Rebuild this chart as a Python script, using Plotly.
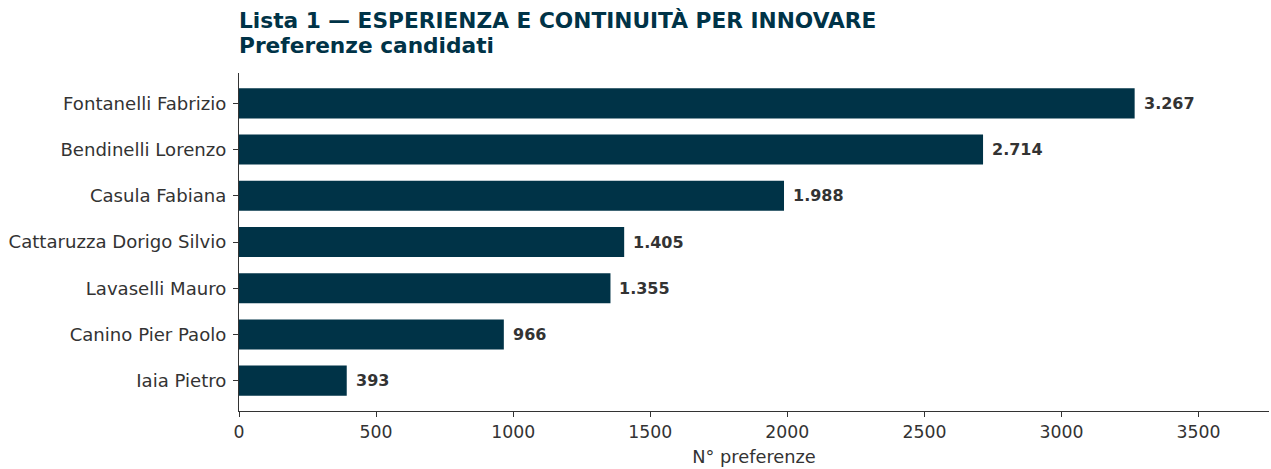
import plotly.graph_objects as go

candidates = ["Fontanelli Fabrizio", "Bendinelli Lorenzo", "Casula Fabiana",
              "Cattaruzza Dorigo Silvio", "Lavaselli Mauro", "Canino Pier Paolo", "Iaia Pietro"]
votes = [3267, 2714, 1988, 1405, 1355, 966, 393]
vote_labels = ["3.267", "2.714", "1.988", "1.405", "1.355", "966", "393"]
x_ticks = [0, 500, 1000, 1500, 2000, 2500, 3000, 3500]
title_lines = ["Lista 1 — ESPERIENZA E CONTINUITÀ PER INNOVARE", "Preferenze candidati"]

BAR = "#003347"
TXT = "#333333"
FONT = "DejaVu Sans"

W, H = 1271, 469
ML, MR, MT, MB = 239, 2, 73, 58
PH = H - MT - MB

fig = go.Figure()
fig.add_trace(go.Bar(
    x=votes, y=candidates, orientation="h",
    marker=dict(color=BAR, line=dict(width=0)),
    width=0.65, hoverinfo="skip",
))

for c, v, lab in zip(candidates, votes, vote_labels):
    fig.add_annotation(x=v, y=c, text=f"<b>{lab}</b>", showarrow=False,
                       xanchor="left", yanchor="middle", xshift=7,
                       font=dict(family=FONT, size=16, color=TXT))

# title lines
for line, base in zip(title_lines, [30, 54]):
    fig.add_annotation(xref="paper", yref="paper", x=0, y=1 + (MT - base - 5.5) / PH,
                       xanchor="left", yanchor="bottom", showarrow=False, xshift=-2,
                       text=f"<b>{line}</b>",
                       font=dict(family=FONT, size=21.7, color="#003347"))

fig.update_layout(
    width=W, height=H,
    margin=dict(l=ML, r=MR, t=MT, b=MB),
    plot_bgcolor="white", paper_bgcolor="white",
    showlegend=False,
    font=dict(family=FONT, color=TXT),
)
fig.update_xaxes(
    range=[0, 3267 * 1.15], tickvals=x_ticks, ticktext=[str(t) for t in x_ticks],
    showgrid=False, zeroline=False,
    showline=True, linecolor=TXT, linewidth=1,
    ticks="outside", ticklen=5, tickcolor=TXT,
    tickfont=dict(family=FONT, size=17.3, color=TXT),
    title=dict(text="N° preferenze", font=dict(family=FONT, size=17.8, color=TXT), standoff=9),
)
fig.update_yaxes(
    categoryorder="array", categoryarray=candidates,
    range=[6.6575, -0.6575],
    showgrid=False, zeroline=False,
    showline=True, linecolor=TXT, linewidth=1,
    ticks="outside", ticklen=5, tickcolor=TXT, ticklabelstandoff=3,
    tickfont=dict(family=FONT, size=18.1, color=TXT),
)

fig.write_html("out.html",
               config={"displayModeBar": False, "staticPlot": True},
               post_script="document.body.style.margin='0';document.body.style.overflow='hidden';")
